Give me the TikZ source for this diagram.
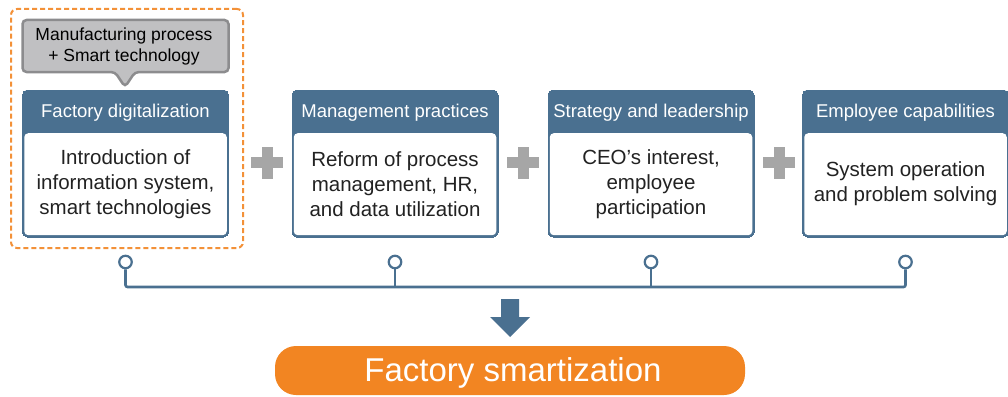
\documentclass[tikz,border=0pt]{standalone}
\usepackage{fontspec}
\setmainfont{Liberation Sans}
\definecolor{hdrblue}{HTML}{4A7090}
\definecolor{pillorange}{HTML}{F28522}
\definecolor{plusgray}{HTML}{A6A6A6}
\definecolor{calloutfill}{HTML}{C0C0C2}
\definecolor{calloutedge}{HTML}{8C8C8E}
\definecolor{bodytext}{HTML}{222222}
\tikzset{
  frame/.style={draw=hdrblue, fill=hdrblue, line width=0pt, rounded corners=5pt, minimum width=206pt, minimum height=147pt, anchor=north, inner sep=0pt},
  hdr/.style={text=white, font=\fontsize{18.5}{21}\selectfont, anchor=center, inner sep=0pt},
  bodybox/.style={fill=white, draw=none, rounded corners=4pt, minimum width=202.5pt, minimum height=102pt, anchor=north, inner sep=0pt},
  bodytxt/.style={text=bodytext, font=\fontsize{20.5}{25}\selectfont, align=center, anchor=center, inner sep=0pt},
  plus/.style={fill=plusgray, draw=none},
  pin/.style={draw=hdrblue, line width=2.2pt, fill=white},
  wire/.style={draw=hdrblue, line width=2.6pt, rounded corners=2pt},
}
\begin{document}
\begin{tikzpicture}[x=1pt,y=-1pt]
\useasboundingbox (0,0) rectangle (1008,396);
% orange dashed frame
\node[draw=pillorange!90!white, line width=2pt, dash pattern=on 5pt off 3pt, rounded corners=6pt, minimum width=232pt, minimum height=239pt, anchor=north west, inner sep=0pt] (hl) at (10,8) {};
% callout
\path[fill=calloutfill, draw=calloutedge, line width=2.5pt, rounded corners=4pt]
  (22.5,20) -- (228.5,20) -- (228.5,72) -- (135,72) -- (125,87) -- (115,72) -- (22.5,72) -- cycle;
\node[font=\fontsize{17.5}{21}\selectfont, align=center, text=black, inner sep=0pt] (call) at (124,46.5) {Manufacturing process\\+ Smart technology};
% boxes
\foreach \i/\cx/\h/\b in {1/125.5/Factory digitalization/{Introduction of\\information system,\\smart technologies},
                        2/395/Management practices/{Reform of process\\management, HR,\\and data utilization},
                        3/651/Strategy and leadership/{CEO’s interest,\\employee\\participation},
                        4/905.5/Employee capabilities/{System operation\\and problem solving}}{
  \node[frame] (box\i) at (\cx,90) {};
  \node[hdr] (hdr\i) at (\cx,112.5) {\h};
  \node[bodybox] (body\i) at (\cx,133) {};
  \node[bodytxt] (txt\i) at (\cx,184) {\b};
  \node[pin, circle, minimum size=12.5pt, inner sep=0pt] (pin\i) at (\cx,262) {};
}
% plus signs
\foreach \px/\n in {267/1,523/2,779/3}{
  \node[plus, minimum width=32pt, minimum height=11pt, inner sep=0pt] (plh\n) at (\px,162.5) {};
  \node[plus, minimum width=11pt, minimum height=32pt, inner sep=0pt] (plv\n) at (\px,162.5) {};
}
% connectors
\coordinate (j2) at (395,287);
\coordinate (j3) at (651,287);
\draw[wire] (pin1.south) |- (pin4.south |- j2) -- (pin4.south);
\draw[wire] (pin2.south) -- (j2);
\draw[wire] (pin3.south) -- (j3);
% down arrow
\path[fill=hdrblue] (501,299) -- (519,299) -- (519,317) -- (530,317) -- (510,337) -- (490,317) -- (501,317) -- cycle;
% pill
\node[fill=pillorange, rounded corners=21pt, minimum width=470pt, minimum height=49pt, inner sep=0pt] (pill) at (510,370.5) {};
\node[text=white, font=\fontsize{33}{38}\selectfont, inner sep=0pt] (pilltxt) at (513,373) {Factory smartization};
\end{tikzpicture}
\end{document}
